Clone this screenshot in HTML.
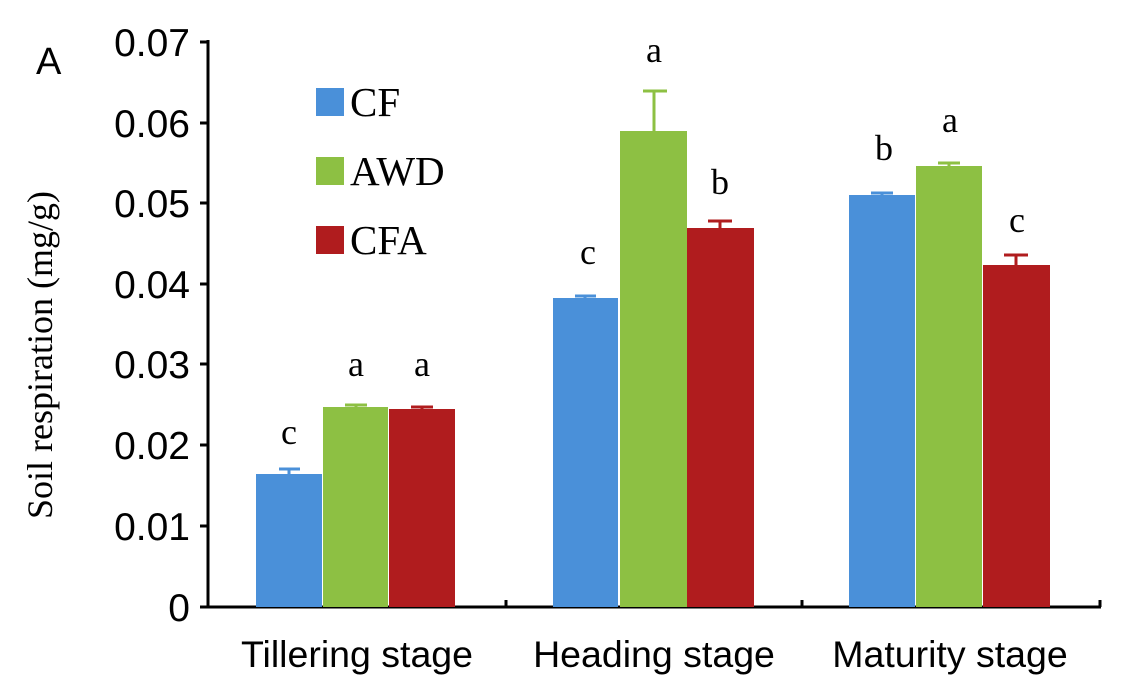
<!DOCTYPE html>
<html><head><meta charset="utf-8"><style>body{margin:0;background:#fff}</style></head><body>
<svg width="1122" height="680" viewBox="0 0 1122 680" xmlns="http://www.w3.org/2000/svg">
<rect width="1122" height="680" fill="#fff"/>
<g stroke="#000" stroke-width="3" fill="none">
<line x1="208" y1="40" x2="208" y2="608"/>
<line x1="207" y1="607" x2="1101" y2="607"/>
<line x1="200" y1="42" x2="208" y2="42"/><line x1="200" y1="123" x2="208" y2="123"/>
<line x1="200" y1="203" x2="208" y2="203"/><line x1="200" y1="284" x2="208" y2="284"/>
<line x1="200" y1="364" x2="208" y2="364"/><line x1="200" y1="445" x2="208" y2="445"/>
<line x1="200" y1="526" x2="208" y2="526"/><line x1="200" y1="607" x2="208" y2="607"/>
<line x1="506" y1="600" x2="506" y2="607"/><line x1="802" y1="600" x2="802" y2="607"/><line x1="1100" y1="600" x2="1100" y2="607"/>
</g>
<g font-family="Liberation Sans, sans-serif" font-size="39" text-anchor="end" fill="#000">
<text x="190" y="56">0.07</text><text x="190" y="137">0.06</text><text x="190" y="217">0.05</text>
<text x="190" y="298">0.04</text><text x="190" y="378">0.03</text><text x="190" y="459">0.02</text>
<text x="190" y="540">0.01</text><text x="190" y="621">0</text>
</g>
<text x="36" y="74" font-family="Liberation Sans, sans-serif" font-size="38">A</text>
<g font-family="Liberation Sans, sans-serif" font-size="37.5" text-anchor="middle">
<text x="357" y="667">Tillering stage</text><text x="654" y="667">Heading stage</text><text x="950" y="667">Maturity stage</text>
</g>
<text transform="translate(52,355) rotate(-90)" font-family="Liberation Serif, serif" font-size="36" text-anchor="middle">Soil respiration (mg/g)</text>
<g stroke-width="3">
<line x1="289" y1="474" x2="289" y2="469" stroke="#4a90d9"/><line x1="279" y1="469" x2="300" y2="469" stroke="#4a90d9"/>
<line x1="356" y1="407" x2="356" y2="405" stroke="#8dc043"/><line x1="345" y1="405" x2="367" y2="405" stroke="#8dc043"/>
<line x1="422" y1="409" x2="422" y2="407" stroke="#b01c1e"/><line x1="411" y1="407" x2="433" y2="407" stroke="#b01c1e"/>
<line x1="585" y1="298" x2="585" y2="296" stroke="#4a90d9"/><line x1="575" y1="296" x2="596" y2="296" stroke="#4a90d9"/>
<line x1="654" y1="131" x2="654" y2="91" stroke="#8dc043"/><line x1="643" y1="91" x2="667" y2="91" stroke="#8dc043"/>
<line x1="720" y1="228" x2="720" y2="221" stroke="#b01c1e"/><line x1="708" y1="221" x2="732" y2="221" stroke="#b01c1e"/>
<line x1="882" y1="195" x2="882" y2="193" stroke="#4a90d9"/><line x1="871" y1="193" x2="893" y2="193" stroke="#4a90d9"/>
<line x1="949" y1="166" x2="949" y2="163" stroke="#8dc043"/><line x1="938" y1="163" x2="960" y2="163" stroke="#8dc043"/>
<line x1="1016" y1="265" x2="1016" y2="255" stroke="#b01c1e"/><line x1="1004" y1="255" x2="1028" y2="255" stroke="#b01c1e"/>
</g>
<rect x="256" y="474" width="66" height="133" fill="#4a90d9"/>
<rect x="323" y="407" width="65" height="200" fill="#8dc043"/>
<rect x="389" y="409" width="66" height="198" fill="#b01c1e"/>
<rect x="553" y="298" width="65" height="309" fill="#4a90d9"/>
<rect x="620" y="131" width="67" height="476" fill="#8dc043"/>
<rect x="687" y="228" width="67" height="379" fill="#b01c1e"/>
<rect x="849" y="195" width="66" height="412" fill="#4a90d9"/>
<rect x="916" y="166" width="66" height="441" fill="#8dc043"/>
<rect x="983" y="265" width="67" height="342" fill="#b01c1e"/>
<g font-family="Liberation Serif, serif" font-size="36" text-anchor="middle">
<text x="289" y="444">c</text><text x="356" y="376">a</text><text x="422" y="376">a</text>
<text x="588" y="264">c</text><text x="654" y="62">a</text><text x="720" y="194">b</text>
<text x="884" y="160">b</text><text x="950" y="132">a</text><text x="1017" y="232">c</text>
</g>
<rect x="316" y="88" width="28" height="28" fill="#4a90d9"/>
<rect x="316" y="157" width="28" height="28" fill="#8dc043"/>
<rect x="316" y="226" width="28" height="28" fill="#b01c1e"/>
<g font-family="Liberation Serif, serif" font-size="41">
<text x="350" y="116">CF</text><text x="350" y="185">AWD</text><text x="350" y="254">CFA</text>
</g>
</svg>
</body></html>
